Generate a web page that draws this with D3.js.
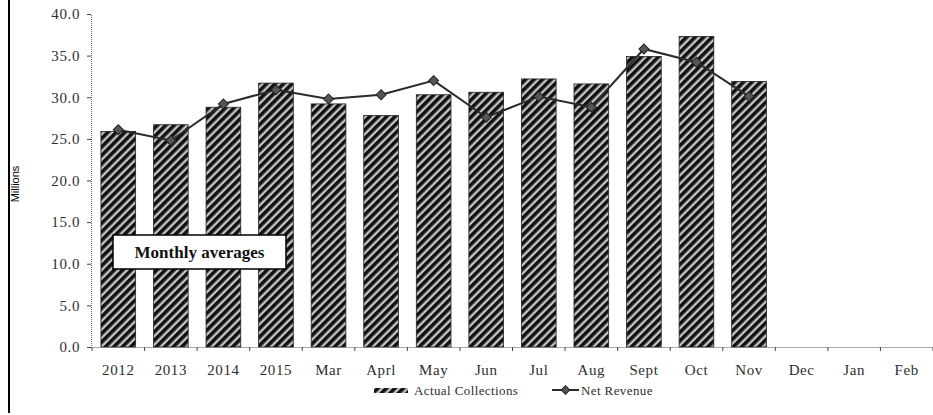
<!DOCTYPE html>
<html>
<head>
<meta charset="utf-8">
<script src="https://cdn.jsdelivr.net/npm/d3@7/dist/d3.min.js"></script>
<style>
  html, body { margin: 0; padding: 0; background: #fff; }
  svg { display: block; }
</style>
</head>
<body>
<svg id="chart" width="933" height="415"></svg>
<script>
// Period labels along the x axis
const categories = ["2012", "2013", "2014", "2015", "Mar", "Apr", "May", "Jun", "Jul", "Aug", "Sept", "Oct", "Nov", "Dec", "Jan", "Feb"];
const tickLabels = ["2012", "2013", "2014", "2015", "Mar", "Aprl", "May", "Jun", "Jul", "Aug", "Sept", "Oct", "Nov", "Dec", "Jan", "Feb"];
// Millions; null where no figure yet
const actualCollections = [25.9, 26.7, 28.8, 31.7, 29.2, 27.8, 30.3, 30.6, 32.2, 31.6, 34.9, 37.3, 31.9, null, null, null];
const netRevenue = [26.1, 24.8, 29.2, 30.9, 29.8, 30.3, 32.0, 27.6, 30.1, 28.8, 35.8, 34.2, 30.1, null, null, null];
const yTicks = [0, 5, 10, 15, 20, 25, 30, 35, 40];

const svg = d3.select("#chart");
const serif = "'Liberation Serif', 'Times New Roman', serif";
const textColour = "#2e2e2e";

// hatch fill for the collection bars
const defs = svg.append("defs");
const pat = defs.append("pattern")
  .attr("id", "hatch")
  .attr("patternUnits", "userSpaceOnUse")
  .attr("width", 6).attr("height", 6)
  .attr("patternTransform", "rotate(45)");
pat.append("rect").attr("width", 6).attr("height", 6).attr("fill", "#c4c4c4");
pat.append("rect").attr("x", 0).attr("width", 3.6).attr("height", 6).attr("fill", "#111");

const x = d3.scaleBand().domain(categories).range([92, 933]).paddingInner(0.34).paddingOuter(0.17);
const y = d3.scaleLinear().domain([0, 40]).range([347, 14]);

// left frame line
svg.append("line").attr("x1", 9).attr("x2", 9).attr("y1", 0).attr("y2", 413)
  .attr("stroke", "#000").attr("stroke-width", 2);

// y axis
const yAxis = svg.append("g").attr("transform", "translate(91,0)")
  .call(d3.axisLeft(y).tickValues(yTicks).tickFormat(d3.format(".1f")).tickSize(4).tickPadding(7));
yAxis.select(".domain").attr("stroke", "#666").attr("stroke-dasharray", "1,1");
yAxis.selectAll(".tick line").attr("stroke", "#444");
yAxis.selectAll("text").attr("font-family", serif).attr("font-size", 15).attr("fill", textColour)
  .attr("letter-spacing", "0.6px");

// y title
svg.append("text").attr("transform", "translate(19,184) rotate(-90)")
  .attr("text-anchor", "middle")
  .attr("font-family", "'Liberation Sans', Arial, sans-serif").attr("font-size", 11).attr("fill", "#000")
  .text("Millions");

// bars
svg.append("g").selectAll("rect")
  .data(categories.map((c, i) => ({ c, v: actualCollections[i] })).filter(d => d.v != null))
  .join("rect")
  .attr("x", d => x(d.c))
  .attr("width", x.bandwidth())
  .attr("y", d => y(d.v))
  .attr("height", d => y(0) - y(d.v))
  .attr("fill", "url(#hatch)")
  .attr("stroke", "#222").attr("stroke-width", 0.8);

// x axis
const gap = (x.step() - x.bandwidth()) / 2;
const xAxis = svg.append("g").attr("transform", "translate(0,347)")
  .call(d3.axisBottom(x).tickSize(0).tickPadding(17).tickFormat((d, i) => tickLabels[i]));
xAxis.select(".domain").attr("stroke", "#555").attr("stroke-dasharray", "1,1");
xAxis.selectAll("text").attr("font-family", serif).attr("font-size", 15).attr("fill", textColour)
  .attr("letter-spacing", "0.6px");
const bounds = categories.map(c => x(c) - gap).concat([x(categories[categories.length - 1]) + x.bandwidth() + gap]);
xAxis.selectAll(".bt").data(bounds).join("line").attr("class", "bt")
  .attr("x1", d => d).attr("x2", d => d).attr("y1", 0).attr("y2", 4)
  .attr("stroke", "#444");

// net revenue line with diamond markers
const pts = categories.map((c, i) => ({ c, v: netRevenue[i] })).filter(d => d.v != null);
const cx = d => x(d.c) + x.bandwidth() / 2;
const line = d3.line().x(cx).y(d => y(d.v));
svg.append("path").datum(pts).attr("d", line)
  .attr("fill", "none").attr("stroke", "#2a2a2a").attr("stroke-width", 2);
const diamond = d3.symbol().type(d3.symbolSquare).size(50);
svg.append("g").selectAll("path").data(pts).join("path")
  .attr("transform", d => `translate(${cx(d)},${y(d.v)}) rotate(45)`)
  .attr("d", diamond)
  .attr("fill", "#555").attr("stroke", "#222").attr("stroke-width", 1);

// note box
svg.append("rect").attr("x", 113).attr("y", 235).attr("width", 173).attr("height", 34)
  .attr("fill", "#fff").attr("stroke", "#000").attr("stroke-width", 1.5);
svg.append("text").attr("x", 199.5).attr("y", 258).attr("text-anchor", "middle")
  .attr("font-family", serif).attr("font-weight", "bold").attr("font-size", 17).attr("fill", "#111")
  .text("Monthly averages");

// legend
const leg = svg.append("g");
leg.append("rect").attr("x", 374).attr("y", 388).attr("width", 34).attr("height", 5).attr("fill", "url(#hatch)");
leg.append("text").attr("x", 414).attr("y", 395).attr("font-family", serif).attr("font-size", 13)
  .attr("fill", textColour).attr("letter-spacing", "0.4px").text("Actual Collections");
leg.append("line").attr("x1", 552).attr("x2", 579).attr("y1", 390).attr("y2", 390)
  .attr("stroke", "#2a2a2a").attr("stroke-width", 2);
leg.append("path").attr("transform", "translate(565.5,390) rotate(45)")
  .attr("d", d3.symbol().type(d3.symbolSquare).size(36))
  .attr("fill", "#555").attr("stroke", "#222");
leg.append("text").attr("x", 581).attr("y", 395).attr("font-family", serif).attr("font-size", 13)
  .attr("fill", textColour).attr("letter-spacing", "0.4px").text("Net Revenue");
</script>
</body>
</html>
